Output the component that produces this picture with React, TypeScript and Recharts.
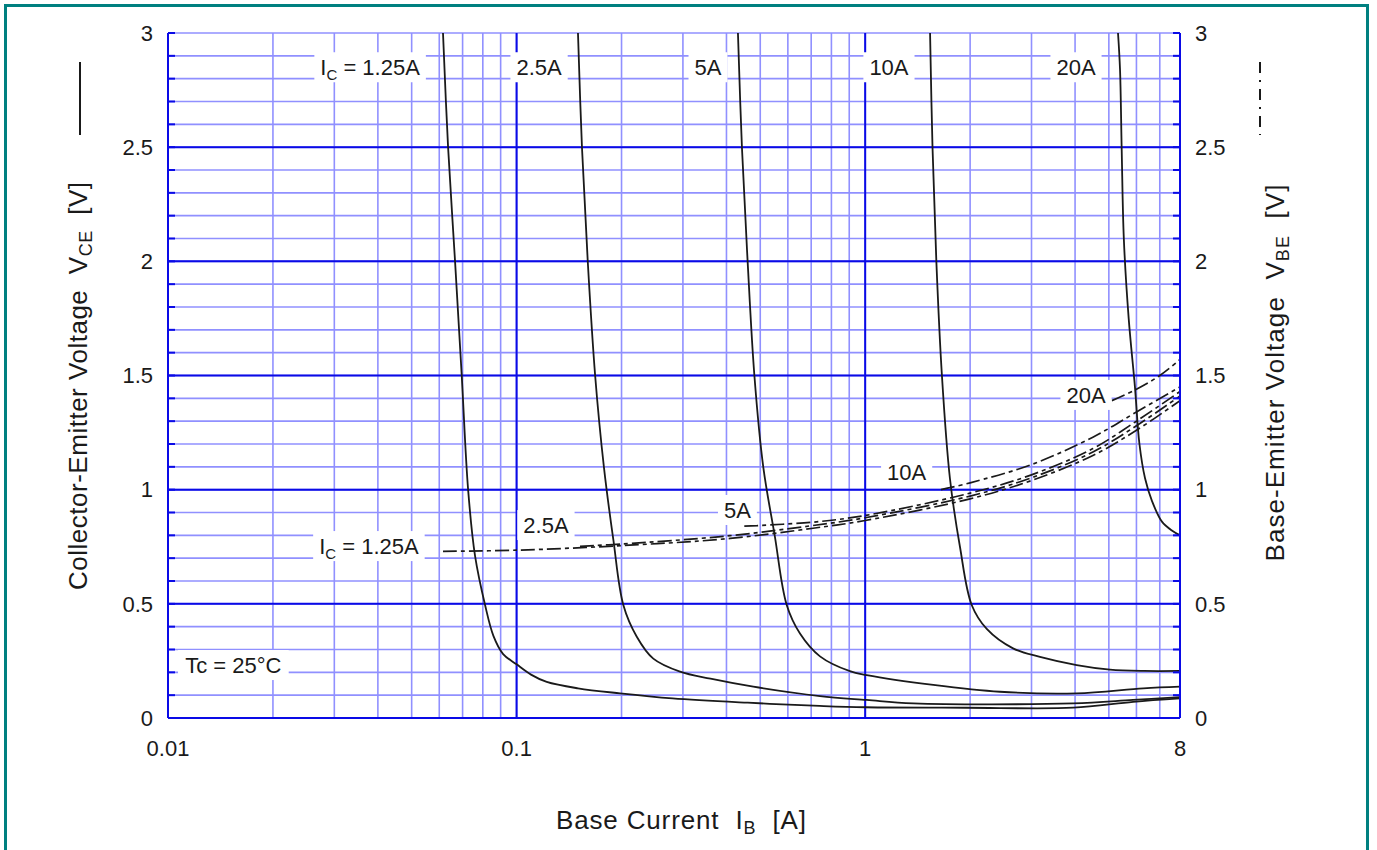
import React from 'react';
import {
  LineChart,
  Line,
  XAxis,
  YAxis,
  CartesianGrid,
  ReferenceLine,
  ReferenceDot,
} from 'recharts';

// ---------- axis ticks ----------
const xTicks = [
  0.01, 0.02, 0.03, 0.04, 0.05, 0.06, 0.07, 0.08, 0.09,
  0.1, 0.2, 0.3, 0.4, 0.5, 0.6, 0.7, 0.8, 0.9,
  1, 2, 3, 4, 5, 6, 7, 8,
];
const xTickLabels = ['0.01', '0.1', '1', '8'];
const xDecades = [0.1, 1];

const yTicks = [
  0, 0.1, 0.2, 0.3, 0.4, 0.5, 0.6, 0.7, 0.8, 0.9,
  1, 1.1, 1.2, 1.3, 1.4, 1.5, 1.6, 1.7, 1.8, 1.9,
  2, 2.1, 2.2, 2.3, 2.4, 2.5, 2.6, 2.7, 2.8, 2.9, 3,
];
const yTickLabels = ['0', '0.5', '1', '1.5', '2', '2.5', '3'];
const yMajor = [0.5, 1, 1.5, 2, 2.5];

// ---------- VCE curves (solid)  [IB (A), VCE (V)] ----------
const vce125: [number, number][] = [
  [0.0615, 3.0], [0.0636, 2.5], [0.0666, 2.0], [0.0696, 1.5], [0.0726, 1.0],
  [0.076, 0.71], [0.0812, 0.495], [0.0858, 0.36], [0.0915, 0.28], [0.1, 0.235],
  [0.11, 0.19], [0.122, 0.158], [0.15, 0.13], [0.198, 0.108], [0.28, 0.086],
  [0.46, 0.067], [0.74, 0.053], [1.0, 0.047], [1.95, 0.045], [3.95, 0.045],
  [5.87, 0.071], [8, 0.086],
];
const vce25: [number, number][] = [
  [0.15, 3.0], [0.154, 2.5], [0.16, 2.0], [0.168, 1.5], [0.178, 1.1],
  [0.1895, 0.78], [0.2024, 0.495], [0.2212, 0.356], [0.2467, 0.26], [0.2943, 0.203],
  [0.36, 0.172], [0.4775, 0.137], [0.742, 0.096], [1.01, 0.079], [1.374, 0.064],
  [3.947, 0.064], [5.866, 0.079], [8, 0.091],
];
const vce5: [number, number][] = [
  [0.4315, 3.0], [0.443, 2.5], [0.46, 2.0], [0.481, 1.5], [0.51, 1.1],
  [0.55, 0.8], [0.5955, 0.495], [0.65, 0.37], [0.742, 0.27], [0.904, 0.205],
  [1.01, 0.188], [1.568, 0.145], [2.436, 0.115], [4.044, 0.108], [6.28, 0.13],
  [8, 0.137],
];
const vce10: [number, number][] = [
  [1.535, 3.0], [1.56, 2.5], [1.6, 2.0], [1.66, 1.5], [1.75, 1.05],
  [1.87, 0.75], [2.021, 0.495], [2.232, 0.39], [2.655, 0.305], [3.172, 0.268],
  [4.044, 0.232], [5.038, 0.212], [6.3, 0.206], [8, 0.206],
];
const vce20: [number, number][] = [
  [5.312, 3.0], [5.383, 2.84], [5.443, 2.49], [5.52, 2.1], [5.7, 1.75],
  [5.94, 1.45], [6.12, 1.2], [6.35, 1.05], [6.65, 0.95], [7.1, 0.86],
  [7.6, 0.82], [8, 0.8],
];

// ---------- VBE curves (dash-dot)  [IB (A), VBE (V)] ----------
const vbe125: [number, number][] = [
  [0.0615, 0.73], [0.1, 0.735], [0.2, 0.755], [0.4, 0.785], [0.7, 0.83],
  [1.0, 0.865], [2.0, 0.96], [3.0, 1.04], [4.5, 1.15], [6.0, 1.26], [8, 1.39],
];
const vbe25: [number, number][] = [
  [0.152, 0.752], [0.2, 0.762], [0.4, 0.797], [0.7, 0.842], [1.0, 0.877],
  [2.0, 0.972], [3.0, 1.052], [4.5, 1.165], [6.0, 1.28], [8, 1.41],
];
const vbe5: [number, number][] = [
  [0.45, 0.84], [0.7, 0.857], [1.0, 0.887], [2.0, 0.985], [3.0, 1.065],
  [4.5, 1.18], [6.0, 1.3], [8, 1.43],
];
const vbe10: [number, number][] = [
  [1.65, 1.0], [2.0, 1.03], [3.0, 1.11], [4.5, 1.23], [6.0, 1.34], [8, 1.45],
];
const vbe20: [number, number][] = [
  [5.1, 1.39], [6.0, 1.44], [7.0, 1.5], [8, 1.57],
];

// ---------- annotations ----------
const labelPre = ['I', '', '', '', '', 'I', '', '', '', '', 'Tc = 25°C'];
const labelSub = ['C', '', '', '', '', 'C', '', '', '', '', ''];
const labelPost = [' = 1.25A', '2.5A', '5A', '10A', '20A', ' = 1.25A', '2.5A', '5A', '10A', '20A', ''];
const labelIB = [0.038, 0.116, 0.354, 1.17, 4.025, 0.0377, 0.1214, 0.43, 1.315, 4.3, 0.0154];
const labelV = [2.85, 2.85, 2.85, 2.85, 2.85, 0.753, 0.845, 0.911, 1.079, 1.415, 0.232];

// ---------- styling ----------
const FONT = '"Liberation Sans", Arial, Helvetica, sans-serif';
const LIGHT = '#9090ff';
const DARK = '#0a0ae6';
const INK = '#1a1a1a';
const VBE_DASH = '14 4 4 4';

const toData = (pairs: [number, number][]) => pairs.map(([ib, v]) => ({ ib, v }));

// centripetal Catmull-Rom curve factory (smooth, passes through every point)
const smoothCurve = (context: any) => {
  let pts: number[][] = [];
  return {
    areaStart() {},
    areaEnd() {},
    lineStart() {
      pts = [];
    },
    point(x: number, y: number) {
      pts.push([+x, +y]);
    },
    lineEnd() {
      const n = pts.length;
      if (!n) return;
      context.moveTo(pts[0][0], pts[0][1]);
      for (let i = 0; i < n - 1; i++) {
        const p0 = pts[i === 0 ? 0 : i - 1];
        const p1 = pts[i];
        const p2 = pts[i + 1];
        const p3 = pts[i + 2 < n ? i + 2 : n - 1];
        const d01 = Math.hypot(p1[0] - p0[0], p1[1] - p0[1]);
        const d12 = Math.hypot(p2[0] - p1[0], p2[1] - p1[1]);
        const d23 = Math.hypot(p3[0] - p2[0], p3[1] - p2[1]);
        const l01 = Math.sqrt(d01);
        const l12 = Math.sqrt(d12);
        const l23 = Math.sqrt(d23);
        let c1x = p1[0];
        let c1y = p1[1];
        let c2x = p2[0];
        let c2y = p2[1];
        if (l01 > 1e-6) {
          const a = 2 * d01 + 3 * l01 * l12 + d12;
          const m = 3 * l01 * (l01 + l12);
          c1x = (p1[0] * a - p0[0] * d12 + p2[0] * d01) / m;
          c1y = (p1[1] * a - p0[1] * d12 + p2[1] * d01) / m;
        }
        if (l23 > 1e-6) {
          const b = 2 * d23 + 3 * l23 * l12 + d12;
          const m = 3 * l23 * (l23 + l12);
          c2x = (p2[0] * b + p1[0] * d23 - p3[0] * d12) / m;
          c2y = (p2[1] * b + p1[1] * d23 - p3[1] * d12) / m;
        }
        context.bezierCurveTo(c1x, c1y, c2x, c2y, p2[0], p2[1]);
      }
    },
  };
};

const charW: Record<string, number> = {
  '0': 0.556, '1': 0.556, '2': 0.556, '5': 0.556, '.': 0.278, A: 0.667, I: 0.278,
  ' ': 0.278, '=': 0.584, T: 0.611, c: 0.5, '°': 0.4, C: 0.722,
};
const textW = (s: string, fs: number) =>
  s.split('').reduce((acc, ch) => acc + (charW[ch] ?? 0.556) * fs, 0);

const makeLabel = (i: number) => (props: any) => {
  const { cx, cy } = props;
  const fs = 22;
  const subFs = 15;
  const w = textW(labelPre[i] + labelPost[i], fs) + textW(labelSub[i], subFs) + 12;
  const h = 30;
  return (
    <g>
      <rect x={cx - w / 2} y={cy - h / 2} width={w} height={h} fill="#ffffff" />
      <text
        x={cx}
        y={cy + 8}
        textAnchor="middle"
        fontSize={fs}
        fontFamily={FONT}
        fill={INK}
        style={{ whiteSpace: 'pre' }}
      >
        {labelPre[i]}
        {labelSub[i] ? (
          <tspan fontSize={subFs} dy={5}>{labelSub[i]}</tspan>
        ) : null}
        {labelSub[i] ? <tspan dy={-5}>{labelPost[i]}</tspan> : labelPost[i]}
      </text>
    </g>
  );
};

const fmtX = (v: any) => (xTickLabels.includes(String(v)) ? String(v) : '');
const fmtY = (v: any) => (yTickLabels.includes(String(v)) ? String(v) : '');

const tickStyle = { fill: INK, fontSize: 22, fontFamily: FONT };

const vceSeries = [vce125, vce25, vce5, vce10, vce20];
const vbeSeries = [vbe125, vbe25, vbe5, vbe10, vbe20];

export default function App() {
  return (
    <div
      style={{
        position: 'absolute',
        left: 0,
        top: 0,
        width: 1377,
        height: 850,
        overflow: 'hidden',
        background: '#ffffff',
      }}
    >
      <div
        style={{
          position: 'absolute',
          left: 4,
          top: 4,
          width: 1365,
          height: 900,
          border: '3px solid #008080',
          boxSizing: 'border-box',
        }}
      />
      <div style={{ position: 'absolute', left: 0, top: 0 }}>
        <LineChart
          width={1377}
          height={850}
          margin={{ top: 33, right: 137, bottom: 102, left: 108 }}
        >
          <CartesianGrid stroke={LIGHT} strokeWidth={1.6} />
          <XAxis
            dataKey="ib"
            type="number"
            scale="log"
            domain={[0.01, 8]}
            allowDataOverflow
            ticks={xTicks}
            interval={0}
            tickFormatter={fmtX}
            tick={tickStyle}
            tickLine={false}
            tickSize={0}
            tickMargin={22}
            height={30}
            axisLine={{ stroke: DARK, strokeWidth: 2 }}
          />
          <XAxis
            xAxisId="top"
            orientation="top"
            dataKey="ib"
            type="number"
            scale="log"
            domain={[0.01, 8]}
            allowDataOverflow
            ticks={xTicks}
            interval={0}
            tick={false}
            tickSize={-8}
            tickLine={{ stroke: DARK, strokeWidth: 2 }}
            height={0}
            axisLine={{ stroke: DARK, strokeWidth: 2 }}
          />
          <YAxis
            type="number"
            domain={[0, 3]}
            allowDataOverflow
            ticks={yTicks}
            interval={0}
            tickFormatter={fmtY}
            tick={tickStyle}
            tickSize={-7}
            tickMargin={22}
            tickLine={{ stroke: DARK, strokeWidth: 2 }}
            width={60}
            axisLine={{ stroke: DARK, strokeWidth: 2 }}
          />
          <YAxis
            yAxisId="right"
            orientation="right"
            type="number"
            domain={[0, 3]}
            allowDataOverflow
            ticks={yTicks}
            interval={0}
            tickFormatter={fmtY}
            tick={tickStyle}
            tickSize={-7}
            tickMargin={22}
            tickLine={{ stroke: DARK, strokeWidth: 2 }}
            width={60}
            axisLine={{ stroke: DARK, strokeWidth: 2 }}
          />
          {xDecades.map((d) => (
            <ReferenceLine key={'xd' + d} x={d} stroke={DARK} strokeWidth={2} />
          ))}
          {yMajor.map((d) => (
            <ReferenceLine key={'ym' + d} y={d} stroke={DARK} strokeWidth={2} />
          ))}
          {labelIB.map((ib, i) => (
            <ReferenceDot
              key={'lab' + i}
              x={ib}
              y={labelV[i]}
              r={1}
              shape={makeLabel(i)}
              ifOverflow="visible"
            />
          ))}
          {vceSeries.map((s, i) => (
            <Line
              key={'vce' + i}
              data={toData(s)}
              dataKey="v"
              type={smoothCurve as any}
              stroke={INK}
              strokeWidth={1.8}
              dot={false}
              activeDot={false}
              isAnimationActive={false}
            />
          ))}
          {vbeSeries.map((s, i) => (
            <Line
              key={'vbe' + i}
              data={toData(s)}
              dataKey="v"
              type={smoothCurve as any}
              stroke={INK}
              strokeWidth={1.7}
              strokeDasharray={VBE_DASH}
              dot={false}
              activeDot={false}
              isAnimationActive={false}
            />
          ))}
        </LineChart>
      </div>
      <svg
        width={1377}
        height={850}
        style={{ position: 'absolute', left: 0, top: 0, pointerEvents: 'none' }}
      >
        {/* legend symbols */}
        <line x1={80} y1={62} x2={80} y2={135} stroke={INK} strokeWidth={2} />
        <line
          x1={1260}
          y1={62}
          x2={1260}
          y2={135}
          stroke={INK}
          strokeWidth={2}
          strokeDasharray="11 7 2 7"
        />
        {/* axis titles */}
        <text
          x={681}
          y={829}
          textAnchor="middle"
          fontSize={26}
          fontFamily={FONT}
          fill={INK}
          textLength={250}
          lengthAdjust="spacing"
          style={{ whiteSpace: 'pre' }}
        >
          {'Base Current  I'}
          <tspan fontSize={18} dy={5}>B</tspan>
          <tspan dy={-5}>{'  [A]'}</tspan>
        </text>
        <text
          transform="translate(87,386) rotate(-90)"
          textAnchor="middle"
          fontSize={26}
          fontFamily={FONT}
          fill={INK}
          textLength={408}
          lengthAdjust="spacing"
          style={{ whiteSpace: 'pre' }}
        >
          {'Collector-Emitter Voltage  V'}
          <tspan fontSize={18} dy={5}>CE</tspan>
          <tspan dy={-5}>{'  [V]'}</tspan>
        </text>
        <text
          transform="translate(1284,373) rotate(-90)"
          textAnchor="middle"
          fontSize={26}
          fontFamily={FONT}
          fill={INK}
          textLength={377}
          lengthAdjust="spacing"
          style={{ whiteSpace: 'pre' }}
        >
          {'Base-Emitter Voltage  V'}
          <tspan fontSize={18} dy={5}>BE</tspan>
          <tspan dy={-5}>{'  [V]'}</tspan>
        </text>
      </svg>
    </div>
  );
}
